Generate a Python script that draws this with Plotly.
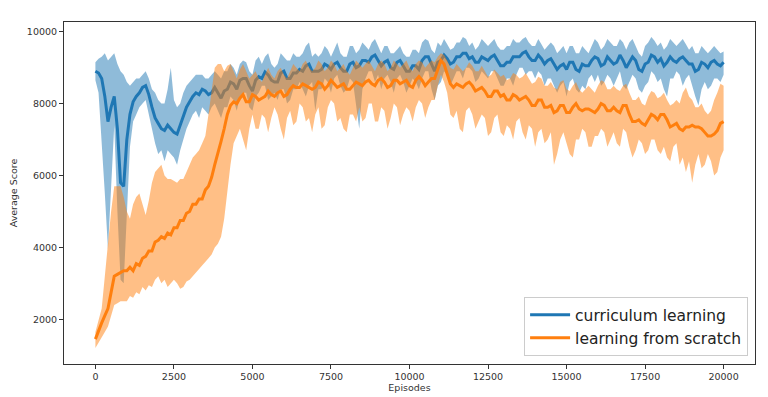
import plotly.graph_objects as go

episodes = list(range(0, 20001, 100))

curr_mean = [
    8900, 8850, 8700, 8200, 7500, 7900, 8200, 7300, 5800, 5700,
    7000, 7700, 8050, 8200, 8300, 8450, 8500, 8250, 7900, 7600,
    7450, 7300, 7250, 7400, 7300, 7200, 7150, 7400, 7700, 7900,
    8050, 8200, 8300, 8250, 8400, 8350, 8250, 8300, 8450, 8300,
    8150, 8350, 8400, 8600, 8550, 8400, 8650, 8700, 8700, 8500,
    8350, 8650, 8750, 8700, 8880, 8800, 8650, 8600, 8600, 8850,
    8900, 8700, 8700, 8850, 8850, 8950, 8900, 9050, 9100, 8900,
    8900, 8900, 8950, 9100, 9050, 8950, 9100, 9150, 9000, 8900,
    8900, 9100, 9150, 9000, 9050, 9200, 9200, 9150, 9300, 9350,
    9200, 9050, 9150, 9200, 9000, 8950, 9150, 9200, 9050, 8900,
    8900, 9050, 9050, 8950, 9200, 9300, 9300, 9100, 8900, 9150,
    9200, 9350, 9250, 9100, 9150, 9300, 9300, 9400, 9400, 9250,
    9300, 9150, 9150, 9300, 9250, 9200, 9300, 9350, 9200, 9050,
    9050, 9150, 9150, 9300, 9300, 9300, 9400, 9450, 9300, 9200,
    9200, 9350, 9250, 9100, 9200, 9250, 9100, 8950, 9050, 9100,
    8950, 9150, 9150, 8950, 8900, 9100, 9050, 9050, 9200, 9300,
    9250, 9050, 9100, 9300, 9200, 9100, 9150, 9350, 9200, 9000,
    9150, 9300, 9200, 8950, 8900, 9100, 9150, 9350, 9300, 9150,
    9250, 9050, 9150, 9300, 9200, 9150, 9250, 9300, 9200, 9100,
    9100, 8900, 8950, 9150, 9100, 9000, 9150, 9200, 9100, 9050,
    9150]
curr_lo = [
    8650, 8300, 7000, 5500, 3950, 5800, 7400, 5000, 3100, 3000,
    4800, 6800, 7500, 7700, 7900, 8000, 8100, 7700, 7300, 6900,
    6600, 6700, 6400, 6700, 6600, 6500, 6300, 6700, 7000, 7300,
    7500, 7700, 7800, 7600, 7900, 7800, 7700, 7900, 8000, 7800,
    7600, 7900, 7900, 8200, 8100, 7800, 8200, 8300, 8300, 7900,
    7800, 8200, 8300, 8500, 8500, 8100, 8200, 8300, 8100, 8400,
    8400, 8000, 8100, 8400, 8400, 8600, 8400, 8200, 8500, 8600,
    7800, 8400, 8400, 8700, 8600, 8300, 8700, 8800, 8500, 8300,
    8400, 8700, 8600, 8000, 7300, 8400, 8700, 8900, 8900, 8600,
    8800, 8400, 8700, 8800, 8600, 8300, 8700, 8800, 8600, 8300,
    8500, 8700, 8600, 8400, 8700, 8900, 8900, 8400, 8100, 8500,
    8600, 8900, 8800, 8500, 8700, 8900, 8900, 8700, 9000, 9000,
    8900, 8600, 8700, 8900, 8800, 8700, 8900, 8900, 8700, 8500,
    8500, 8700, 8700, 8500, 8800, 9000, 9000, 8800, 8900, 8900,
    8700, 8900, 8800, 8500, 8700, 8700, 8500, 8300, 8500, 8600,
    8200, 8600, 8700, 8400, 8300, 8500, 8400, 8700, 8800, 8600,
    8800, 8500, 8600, 8800, 8700, 8500, 8700, 8900, 8500, 8400,
    8600, 8800, 8700, 8400, 8300, 8500, 8600, 8900, 8800, 8600,
    8700, 8400, 8200, 8700, 8700, 8900, 8800, 8500, 8700, 8800,
    8500, 8200, 7950, 8400, 8600, 8400, 8500, 8700, 8700, 8600,
    8800]
curr_hi = [
    9150, 9250, 9300, 9400, 9200, 9300, 9400, 9100, 8900, 8800,
    8600, 8500, 8600, 8700, 8700, 8800, 8900, 8700, 8400, 8300,
    8100, 8000, 8000, 8400, 9000, 8100, 7900, 8000, 8300, 8500,
    8600, 8700, 8800, 8800, 8800, 8700, 8700, 8800, 8900, 8800,
    8700, 8900, 8900, 9100, 9000, 8800, 9100, 9200, 9150, 8900,
    8800, 9200, 9300, 9100, 9300, 9400, 9100, 9000, 9100, 9400,
    9300, 9200, 9200, 9400, 9300, 9300, 9400, 9600, 9700, 9300,
    9400, 9300, 9400, 9600, 9500, 9300, 9500, 9700, 9400, 9300,
    9300, 9600, 9600, 9400, 9500, 9700, 9600, 9500, 9700, 9800,
    9600, 9400, 9600, 9600, 9400, 9400, 9500, 9600, 9400, 9300,
    9300, 9500, 9500, 9400, 9700, 9800, 9750, 9500, 9400, 9700,
    9600, 9800, 9650, 9500, 9550, 9700, 9700, 9850, 9800, 9600,
    9700, 9500, 9600, 9800, 9700, 9600, 9700, 9800, 9600, 9500,
    9500, 9600, 9600, 9800, 9700, 9700, 9800, 9850, 9700, 9600,
    9600, 9800, 9650, 9500, 9600, 9700, 9600, 9400, 9500, 9600,
    9400, 9600, 9600, 9400, 9400, 9600, 9500, 9400, 9600, 9800,
    9700, 9500, 9600, 9800, 9700, 9600, 9600, 9800, 9700, 9500,
    9700, 9800, 9600, 9400, 9300, 9600, 9700, 9850, 9750, 9600,
    9700, 9500, 9600, 9800, 9700, 9600, 9700, 9800, 9650, 9500,
    9600, 9400, 9400, 9600, 9500, 9400, 9500, 9600, 9500, 9400,
    9450]

scratch_mean = [
    1450, 1700, 1900, 2100, 2300, 2750, 3200, 3250, 3300, 3350,
    3350, 3450, 3350, 3550, 3500, 3700, 3750, 3900, 3900, 4150,
    4200, 4300, 4250, 4400, 4350, 4550, 4550, 4750, 4750, 4950,
    5000, 5200, 5200, 5350, 5350, 5600, 5700, 5950, 6300, 6600,
    6950, 7300, 7700, 7950, 8050, 8000, 8150, 8250, 8050, 8050,
    8250, 8200, 8100, 8150, 8200, 8350, 8250, 8200, 8300, 8350,
    8200, 8250, 8400, 8500, 8450, 8450, 8550, 8500, 8450, 8400,
    8450, 8600, 8550, 8400, 8500, 8650, 8550, 8450, 8500, 8550,
    8400, 8400, 8500, 8600, 8550, 8500, 8600, 8650, 8550, 8500,
    8650, 8700, 8600, 8450, 8500, 8650, 8650, 8550, 8600, 8650,
    8500, 8450, 8650, 8750, 8650, 8500, 8600, 8700, 8700, 8950,
    9200, 9100, 8850, 8550, 8450, 8550, 8500, 8450, 8550, 8600,
    8500, 8350, 8400, 8450, 8350, 8200, 8200, 8350, 8350, 8200,
    8250, 8100, 8100, 8250, 8200, 8100, 8150, 8200, 8100, 7950,
    7950, 8100, 8100, 7900, 7900, 7950, 7750, 7800, 7950, 7950,
    7750, 7750, 7900, 8000, 7850, 7800, 7850, 7850, 7800, 7750,
    7850, 8000, 7950, 7800, 7800, 7900, 7800, 7750, 7950, 7950,
    7700, 7500, 7500, 7550, 7450, 7400, 7550, 7700, 7650, 7550,
    7700, 7700, 7550, 7350, 7400, 7450, 7300, 7250, 7350, 7350,
    7400, 7350, 7350, 7300, 7200, 7100, 7100, 7150, 7250, 7450,
    7500]
scratch_lo = [
    1200, 1350, 1500, 1650, 1800, 2100, 2400, 2450, 2500, 2500,
    2500, 2650, 2600, 2750, 2700, 2900, 2800, 2950, 2900, 3100,
    3200, 3000, 3100, 2900, 3000, 3100, 3000, 2850, 2900, 3050,
    3100, 3200, 3300, 3400, 3500, 3600, 3700, 3800, 4000, 4100,
    4300, 4800, 5500, 6300, 6900, 7100, 7300, 7000, 6700, 7300,
    7700, 7300, 7300, 7700, 7600, 7200, 7600, 7900, 7700, 7300,
    7000, 7600, 7800, 7400, 7500, 8000, 7900, 7500, 7600, 7200,
    7700, 7900, 7300, 7400, 7900, 8100, 8000, 7500, 7600, 7300,
    7200, 7700, 7700, 7500, 7900, 7500, 7600, 8000, 8000, 7500,
    7500, 7900, 7800, 7300, 7600, 8000, 7900, 7400, 7700, 7900,
    7800, 7500, 7900, 8100, 8000, 7600, 7900, 8100, 8100, 8500,
    8800, 8600, 8300, 7700, 7600, 7800, 7300, 7200, 7800, 7900,
    7700, 7300, 7500, 7700, 7600, 7100, 7200, 7600, 7700, 7200,
    7100, 7400, 7300, 7000, 7500, 7600, 7200, 7000, 7400, 7300,
    6800, 7200, 7300, 6900, 7000, 7200, 6300, 6600, 7000, 7200,
    6900, 6600, 6500, 7000, 7000, 7300, 7200, 6800, 6800, 7100,
    7100, 7300, 7200, 6800, 7000, 7200, 6900, 6800, 7300, 7200,
    6800, 6500, 6700, 7000, 6900, 6600, 6700, 7000, 7000, 6700,
    6600, 6800, 6500, 6400, 6800, 6900, 6300, 6500, 6100, 6400,
    5800, 6300, 6600, 6200, 6300, 6600, 6400, 6000, 6100, 6500,
    6700]
scratch_hi = [
    1650, 1950, 2300, 3200, 4200, 5000, 5700, 5700, 5700, 5400,
    5000, 4800, 5200, 5400, 5500, 5200, 4900, 5300, 5800, 6100,
    6200, 6300, 6000, 5900, 5900, 5850, 5800, 5900, 5900, 6100,
    6300, 6500, 6600, 6700, 6900, 7100, 7700, 8300, 9000, 9100,
    9100, 8900, 9050, 9100, 8900, 8700, 8950, 9100, 8900, 8700,
    8800, 8900, 8700, 8600, 8800, 9000, 8800, 8700, 8900, 9000,
    8800, 8700, 8900, 9100, 9000, 8900, 9100, 9200, 9000, 8900,
    9000, 9200, 9100, 8900, 9000, 9200, 9100, 8900, 9000, 9100,
    8900, 8800, 9000, 9200, 9100, 9000, 9100, 9200, 9050, 8900,
    9100, 9200, 9100, 8900, 9000, 9200, 9100, 9000, 9100, 9200,
    9000, 8900, 9100, 9200, 9150, 9000, 9100, 9200, 9150, 9300,
    9400, 9350, 9200, 9000, 8950, 9100, 9000, 8900, 9000, 9150,
    9050, 8900, 8900, 9050, 8900, 8750, 8800, 8950, 8850, 8750,
    8800, 8650, 8700, 8850, 8800, 8700, 8750, 8850, 8700, 8550,
    8600, 8750, 8700, 8500, 8500, 8600, 8450, 8400, 8600, 8650,
    8400, 8350, 8500, 8600, 8400, 8300, 8400, 8500, 8400, 8300,
    8500, 8650, 8600, 8400, 8400, 8500, 8400, 8350, 8500, 8550,
    8300, 8100, 8100, 8200, 8000, 7950, 8200, 8350, 8300, 8150,
    8200, 8300, 8100, 7950, 8000, 8100, 8000, 8300, 8450, 8200,
    8100, 7900, 7900, 8000, 7800, 7700, 7800, 8100, 8300, 8550,
    8500]

x_ticks = [0, 2500, 5000, 7500, 10000, 12500, 15000, 17500, 20000]
x_tick_labels = ["0", "2500", "5000", "7500", "10000", "12500", "15000", "17500", "20000"]
y_ticks = [2000, 4000, 6000, 8000, 10000]
y_tick_labels = ["2000", "4000", "6000", "8000", "10000"]

BLUE = "#1f77b4"
ORANGE = "#ff7f0e"

fig = go.Figure()

def add_series(mean, lo, hi, color, fillcolor, name):
    fig.add_trace(go.Scatter(
        x=episodes + episodes[::-1], y=hi + lo[::-1],
        fill="toself", fillcolor=fillcolor, line=dict(width=0),
        mode="lines", hoverinfo="skip", showlegend=False))
    fig.add_trace(go.Scatter(
        x=episodes, y=mean, mode="lines", name=name,
        line=dict(color=color, width=3)))

add_series(curr_mean, curr_lo, curr_hi, BLUE, "rgba(31,119,180,0.5)", "curriculum learning")
add_series(scratch_mean, scratch_lo, scratch_hi, ORANGE, "rgba(255,127,14,0.5)", "learning from scratch")

axis_common = dict(
    showgrid=False, zeroline=False, showline=True, linecolor="#333333",
    linewidth=1, mirror=True, ticks="outside", ticklen=4, tickcolor="#333333",
    tickfont=dict(family="DejaVu Sans", size=9.5, color="#333333"),
)

# The page body has an 8px margin, so the figure is sized to fit the window.
fig.update_layout(
    width=760, height=389,
    margin=dict(l=56, r=13, t=14, b=33),
    paper_bgcolor="white", plot_bgcolor="white",
    font=dict(family="DejaVu Sans", color="#333333"),
    xaxis=dict(range=[-1000, 21000], tickvals=x_ticks, ticktext=x_tick_labels,
               title=dict(text="Episodes", font=dict(size=9.5), standoff=2),
               automargin=False, **axis_common),
    yaxis=dict(range=[757, 10270], tickvals=y_ticks, ticktext=y_tick_labels,
               title=dict(text="Average Score", font=dict(size=9.5), standoff=10),
               automargin=False, **axis_common),
    legend=dict(x=0.99, xanchor="right", y=0.023, yanchor="bottom",
                bgcolor="rgba(255,255,255,0.8)", bordercolor="#cccccc",
                borderwidth=1, font=dict(family="DejaVu Sans", size=15.5, color="#222222"),
                itemwidth=40, tracegroupgap=0),
    showlegend=True,
)

fig.write_html("out.html")
